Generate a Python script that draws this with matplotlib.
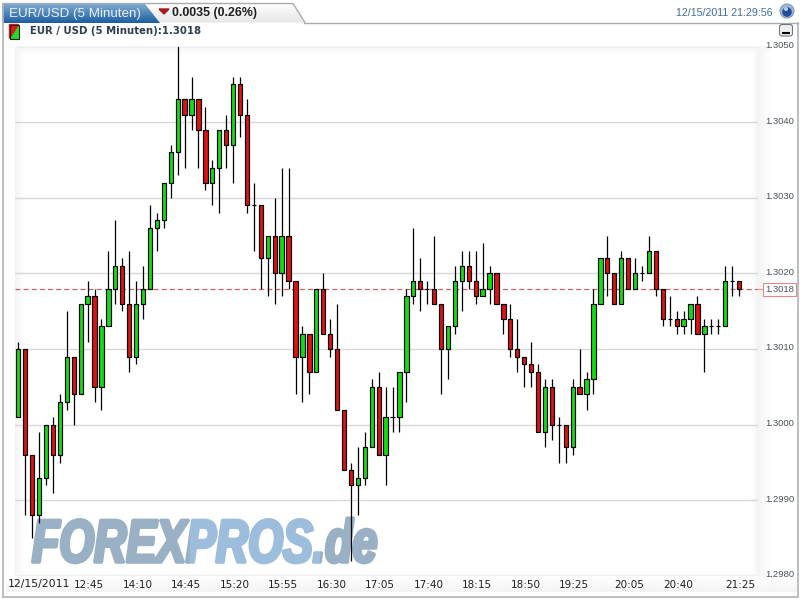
#!/usr/bin/env python3
# -*- coding: utf-8 -*-
# EUR/USD 5 minute candlestick chart, forexpros style
import numpy as np
import matplotlib
matplotlib.use('Agg')
import matplotlib.pyplot as plt
from matplotlib.colors import to_rgb
from matplotlib.patches import Polygon, Rectangle, Circle, FancyBboxPatch
from matplotlib.patheffects import AbstractPathEffect
from matplotlib.transforms import Affine2D, Bbox, ScaledTranslation

opens = [1.3001, 1.3010, 1.2996, 1.2988, 1.2993, 1.3000, 1.2996, 1.3003, 1.3009, 1.3004,
         1.3016, 1.3017, 1.3005, 1.3013, 1.3018, 1.3021, 1.3016, 1.3009, 1.3016, 1.3018,
         1.3026, 1.3027, 1.3032, 1.3036, 1.3043, 1.3041, 1.3043, 1.3039, 1.3032, 1.3034,
         1.3039, 1.3037, 1.3045, 1.3041, 1.3029, 1.3029, 1.3022, 1.3025, 1.3020, 1.3025,
         1.3019, 1.3009, 1.3012, 1.3007, 1.3018, 1.3012, 1.3010, 1.3002, 1.2994, 1.2992,
         1.2993, 1.2997, 1.3005, 1.2996, 1.3001, 1.3001, 1.3007, 1.3017, 1.3019, 1.3018,
         1.3018, 1.3016, 1.3010, 1.3013, 1.3019, 1.3021, 1.3019, 1.3017, 1.3018, 1.3020,
         1.3016, 1.3014, 1.3010, 1.3009, 1.3008, 1.3007, 1.2999, 1.3005, 1.3000, 1.3000,
         1.2997, 1.3005, 1.3004, 1.3006, 1.3016, 1.3022, 1.3020, 1.3016, 1.3022, 1.3018,
         1.3020, 1.3020, 1.3023, 1.3018, 1.3014, 1.3014, 1.3013, 1.3014, 1.3016, 1.3012,
         1.3013, 1.3013, 1.3013, 1.3019, 1.3019]
closes = [1.3010, 1.2996, 1.2988, 1.2993, 1.3000, 1.2996, 1.3003, 1.3009, 1.3004, 1.3016,
          1.3017, 1.3005, 1.3013, 1.3018, 1.3021, 1.3016, 1.3009, 1.3016, 1.3018, 1.3026,
          1.3027, 1.3032, 1.3036, 1.3043, 1.3041, 1.3043, 1.3039, 1.3032, 1.3034, 1.3039,
          1.3037, 1.3045, 1.3041, 1.3029, 1.3029, 1.3022, 1.3025, 1.3020, 1.3025, 1.3019,
          1.3009, 1.3012, 1.3007, 1.3018, 1.3012, 1.3010, 1.3002, 1.2994, 1.2992, 1.2993,
          1.2997, 1.3005, 1.2996, 1.3001, 1.3001, 1.3007, 1.3017, 1.3019, 1.3018, 1.3018,
          1.3016, 1.3010, 1.3013, 1.3019, 1.3021, 1.3019, 1.3017, 1.3018, 1.3020, 1.3016,
          1.3014, 1.3010, 1.3009, 1.3008, 1.3007, 1.2999, 1.3005, 1.3000, 1.3000, 1.2997,
          1.3005, 1.3004, 1.3006, 1.3016, 1.3022, 1.3020, 1.3016, 1.3022, 1.3018, 1.3020,
          1.3020, 1.3023, 1.3018, 1.3014, 1.3014, 1.3013, 1.3014, 1.3016, 1.3012, 1.3013,
          1.3013, 1.3013, 1.3019, 1.3019, 1.3018]
highs = [1.3011, 1.3010, 1.2996, 1.2999, 1.3000, 1.3001, 1.3004, 1.3015, 1.3009, 1.3016,
         1.3019, 1.3018, 1.3014, 1.3023, 1.3027, 1.3022, 1.3023, 1.3019, 1.3021, 1.3029,
         1.3028, 1.3032, 1.3037, 1.3050, 1.3043, 1.3046, 1.3043, 1.3042, 1.3035, 1.3039,
         1.3041, 1.3046, 1.3046, 1.3043, 1.3032, 1.3029, 1.3025, 1.3030, 1.3034, 1.3034,
         1.3019, 1.3013, 1.3012, 1.3018, 1.3020, 1.3014, 1.3016, 1.3002, 1.2995, 1.2997,
         1.2999, 1.3006, 1.3007, 1.3005, 1.3005, 1.3007, 1.3018, 1.3026, 1.3022, 1.3019,
         1.3025, 1.3016, 1.3013, 1.3021, 1.3023, 1.3023, 1.3023, 1.3024, 1.3021, 1.3020,
         1.3016, 1.3016, 1.3014, 1.3009, 1.3011, 1.3008, 1.3006, 1.3006, 1.3001, 1.3000,
         1.3006, 1.3010, 1.3007, 1.3018, 1.3022, 1.3025, 1.3020, 1.3023, 1.3022, 1.3022,
         1.3021, 1.3025, 1.3023, 1.3018, 1.3017, 1.3015, 1.3015, 1.3016, 1.3017, 1.3014,
         1.3014, 1.3014, 1.3021, 1.3021, 1.3019]
lows = [1.3001, 1.2988, 1.2985, 1.2987, 1.2992, 1.2991, 1.2995, 1.3002, 1.3000, 1.3004,
        1.3011, 1.3003, 1.3002, 1.3013, 1.3016, 1.3015, 1.3007, 1.3008, 1.3014, 1.3018,
        1.3023, 1.3026, 1.3030, 1.3033, 1.3034, 1.3039, 1.3034, 1.3031, 1.3029, 1.3028,
        1.3034, 1.3032, 1.3038, 1.3028, 1.3023, 1.3018, 1.3017, 1.3016, 1.3017, 1.3018,
        1.3004, 1.3003, 1.3004, 1.3007, 1.3012, 1.3009, 1.3002, 1.2994, 1.2982, 1.2988,
        1.2992, 1.2997, 1.2996, 1.2992, 1.2999, 1.2999, 1.3003, 1.3016, 1.3015, 1.3016,
        1.3016, 1.3004, 1.3006, 1.3012, 1.3015, 1.3018, 1.3016, 1.3017, 1.3016, 1.3016,
        1.3012, 1.3009, 1.3007, 1.3005, 1.3005, 1.2999, 1.2997, 1.2998, 1.2995, 1.2995,
        1.2996, 1.3004, 1.3002, 1.3004, 1.3016, 1.3017, 1.3016, 1.3016, 1.3018, 1.3018,
        1.3019, 1.3020, 1.3017, 1.3013, 1.3013, 1.3012, 1.3012, 1.3012, 1.3012, 1.3007,
        1.3012, 1.3012, 1.3013, 1.3017, 1.3017]

# x axis: which candle carries which label
time_ticks = [10, 17, 24, 31, 38, 45, 52, 59, 66, 73, 80, 88, 95, 104]
time_labels = ['12:45', '14:10', '14:45', '15:20', '15:55', '16:30', '17:05',
               '17:40', '18:15', '18:50', '19:25', '20:05', '20:40', '21:25']
price_ticks = [1.2980, 1.2990, 1.3000, 1.3010, 1.3020, 1.3030, 1.3040, 1.3050]
last_price = 1.3018

W, H = 801, 599
fig = plt.figure(figsize=(W / 100, H / 100), dpi=100, facecolor='white')

# page furniture, drawn in pixel coordinates
bg = fig.add_axes([0, 0, 1, 1], zorder=0)
bg.axis('off')


class SqueezedLogo(AbstractPathEffect):
    """Narrow the text sideways, thicken it and paint each x range in its own colour."""

    def __init__(self, sx, stroke, parts):
        super().__init__()
        self.sx = sx
        self.stroke = stroke
        self.parts = parts

    def draw_path(self, renderer, gc, tpath, affine, rgbFace=None):
        x0 = affine.transform((0, 0))[0]
        squeeze = affine + Affine2D().translate(-x0, 0).scale(self.sx, 1).translate(x0, 0)
        for xa, xb, color in self.parts:
            g = renderer.new_gc()
            g.copy_properties(gc)
            g.set_foreground(color)
            g.set_linewidth(self.stroke)
            g.set_clip_rectangle(Bbox([[xa, 0], [xb, H]]))
            renderer.draw_path(g, tpath, squeeze, to_rgb(color))
            g.restore()


def gradient(x0, x1, y0, y1, img, clip=None, vmin=0.0, vmax=1.0):
    im = bg.imshow(img, extent=(x0, x1, y1, y0), cmap='gray', vmin=vmin, vmax=vmax,
                   aspect='auto', interpolation='bilinear', zorder=1)
    if clip is not None:
        im.set_clip_path(clip)
    return im


# frame
bg.plot([2.5, 2.5], [5, 596.5], color='#a8adb2', lw=1.1, zorder=3)
bg.plot([2.5, 797.5, 797.5], [596.5, 596.5, 22.5], color='#a8adb2', lw=1.1, zorder=3)
bg.plot([304, 797.5], [22.5, 22.5], color='#a8adb2', lw=1.0, zorder=3)

# grey tab with the change value
tab_grey = Polygon([(3, 22.5), (3, 3.5), (293, 3.5), (305, 22.5)], closed=True,
                   facecolor='none', edgecolor='none')
bg.add_patch(tab_grey)
gradient(3, 305, 3, 23, np.linspace(1.0, 0.90, 20).reshape(-1, 1), clip=tab_grey)
bg.plot([3, 3, 293, 305], [22.5, 3.5, 3.5, 22.5], color='#a8adb2', lw=1.0, zorder=3)

# blue tab
tab_blue = Polygon([(3.5, 23), (3.5, 4), (145, 4), (160, 23)], closed=True,
                   facecolor='none', edgecolor='none')
bg.add_patch(tab_blue)
blue = np.linspace(0, 1, 20)[:, None] * np.array([[0x1f - 0x7d, 0x5f - 0xa8, 0xa0 - 0xcf]]) \
    + np.array([[0x7d, 0xa8, 0xcf]])
im = bg.imshow((blue / 255)[:, None, :], extent=(3, 161, 23, 4), aspect='auto',
               interpolation='bilinear', zorder=2)
im.set_clip_path(tab_blue)
bg.text(9, 13.5, 'EUR/USD (5 Minuten)', color='#e8f0f8', fontsize=9.6, va='center',
        family='Liberation Sans', zorder=4)
bg.add_patch(Polygon([(159, 9), (169, 9), (164, 14)], closed=True, color='#a81818', zorder=4))
bg.text(172, 13, '0.0035 (0.26%)', color='#202020', fontsize=8.9, va='center',
        family='Liberation Sans', weight='bold', zorder=4)

# timestamp and globe
bg.text(773, 12.5, '12/15/2011 21:29:56', color='#3f6ca3', fontsize=7.7, ha='right', va='center',
        family='Liberation Sans', zorder=4)
bg.add_patch(Circle((787, 11), 7, facecolor='#9fb6d6', edgecolor='#8a9ab0', lw=0.8, zorder=4))
bg.add_patch(Circle((787, 12), 4.8, facecolor='#1f4f9c', edgecolor='none', zorder=5))
bg.add_patch(Circle((786, 9), 2.0, facecolor='#b8cce8', edgecolor='none', zorder=6))

# header row
bg.add_patch(Rectangle((9.5, 24.5), 9, 14, facecolor='#22dd22', edgecolor='none', zorder=4))
bg.add_patch(Polygon([(9.5, 24.5), (18.5, 24.5), (9.5, 38.5)], closed=True, color='#e01818', zorder=5))
bg.add_patch(Rectangle((9.5, 24.5), 9, 14, facecolor='none', edgecolor='#202020', lw=0.8, zorder=6))
bg.text(30, 31.5, 'EUR / USD (5 Minuten):1.3018', color='#2c3e50', fontsize=7.3, va='center',
        family='DejaVu Sans', weight='bold', zorder=4)
bg.add_patch(FancyBboxPatch((779.5, 24.5), 13, 11.5, boxstyle='round,pad=0,rounding_size=2.5',
                            facecolor='#f0f0f0', edgecolor='#70767c', lw=0.8, zorder=4))
bg.plot([782, 790], [33, 33], color='black', lw=1.5, solid_capstyle='butt', zorder=5)

# soft grey edge around the plot area
px = np.arange(15, 770)
py = np.arange(46, 577)
left = np.clip((px - 15) / 10, 0, 1)
right = np.clip((758 - px) / 8, 0, 1)
right[px >= 758] = np.clip((px[px >= 758] - 758) / 12, 0, 1) * 0.9
top = np.clip((py - 46) / 8, 0, 1)
bottom = np.clip((576 - py) / 6, 0, 1)
edge = np.minimum.outer(np.minimum(top, bottom), np.minimum(left, right))
gradient(15, 770, 46, 577, 0.955 + 0.045 * edge)

# time axis strip
gradient(6, 797, 576, 592, np.linspace(1.0, 0.955, 16).reshape(-1, 1))
bg.text(8, 584, '12/15/2011', color='#202020', fontsize=7.8, va='center', family='DejaVu Sans', zorder=4)

# watermark sits behind the candles
logo = bg.text(32, 562, 'FOREXPROS.de', color='#9ab0c5', fontsize=43.5, weight='bold', style='italic',
               va='baseline', family='Liberation Sans', zorder=2)
logo.set_path_effects([SqueezedLogo(0.74, 2.6, [(0, 190, '#9ab0c5'), (190, 320, '#9dbddd'),
                                                (320, W, '#9ab0c5')])])

bg.set_xlim(0, W)
bg.set_ylim(H, 0)

# candles
plot_l, plot_r, plot_t, plot_b = 15, 758, 46.5, 576
ax = fig.add_axes([plot_l / W, 1 - plot_b / H, (plot_r - plot_l) / W, (plot_b - plot_t) / H], zorder=1)
ax.patch.set_alpha(0)
step = 6.93
ax.set_xlim((plot_l - 18.3) / step, (plot_r - 18.3) / step)
ax.set_ylim(1.2980, 1.3050)

for s in ax.spines.values():
    s.set_visible(False)
ax.grid(axis='y', color='#d9d9d9', lw=1.0, zorder=1)
ax.set_axisbelow(True)

xs = np.arange(len(opens))
o, c = np.array(opens), np.array(closes)
ax.vlines(xs, lows, highs, color='black', lw=0.9, zorder=3)
colors = ['#12dd12' if b >= a else '#dd1212' for a, b in zip(opens, closes)]
ax.bar(xs, c - o, bottom=o, width=0.62, color=colors, edgecolor='black', lw=0.85, zorder=4)

ax.axhline(last_price, color='#c86464', lw=0.9, dashes=(4, 2.5), zorder=2)

ax.set_xticks(time_ticks, time_labels)
ax.set_yticks(price_ticks, ['%.4f' % p for p in price_ticks])
ax.yaxis.tick_right()
ax.tick_params(axis='x', length=0, pad=3.2, labelsize=7.5, labelcolor='#202020')
ax.tick_params(axis='y', length=0, pad=5, labelsize=6.8, labelcolor='#48525a')
for t in ax.get_xticklabels():
    t.set_transform(t.get_transform() + ScaledTranslation(1.0 / 72, 0, fig.dpi_scale_trans))
for t in ax.get_yticklabels():
    t.set_family('Liberation Sans')
    t.set_transform(t.get_transform() + ScaledTranslation(0, 1.5 / 72, fig.dpi_scale_trans))

# current price tag on the right
tag_y = ax.get_yaxis_transform()
ax.plot([1.0, 1.006], [last_price, last_price], transform=tag_y, color='#e8a0a0', lw=0.9,
        clip_on=False, zorder=2)
ax.annotate('%.4f' % last_price, xy=(1.0, last_price), xycoords=tag_y, xytext=(5.2, -0.4),
            textcoords='offset points', va='center', ha='left', fontsize=6.8, color='#48525a',
            family='Liberation Sans', annotation_clip=False,
            bbox=dict(boxstyle='square,pad=0.22', facecolor='white', edgecolor='#e08a8a', lw=0.8))

plt.savefig('out.png', dpi=100)
